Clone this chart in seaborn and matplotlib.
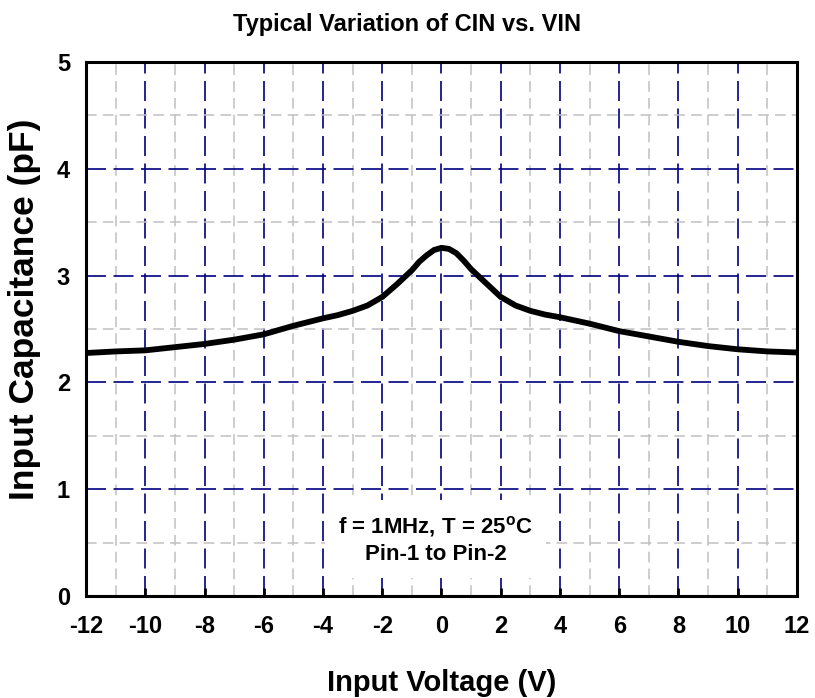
import matplotlib
matplotlib.use("Agg")
import matplotlib.pyplot as plt
import seaborn as sns
import pandas as pd
from matplotlib.ticker import MultipleLocator

# ---- data ----
vin = [-12, -11, -10, -9, -8, -7, -6, -5, -4, -3.5, -3, -2.5, -2, -1.5, -1, -0.75, -0.5, -0.25, 0,
       0.25, 0.5, 0.75, 1, 1.5, 2, 2.5, 3, 3.5, 4, 5, 6, 7, 8, 9, 10, 11, 12]
cin = [2.275, 2.29, 2.30, 2.33, 2.36, 2.40, 2.45, 2.53, 2.60, 2.63, 2.67, 2.72, 2.80, 2.92, 3.05, 3.13, 3.19, 3.24, 3.26,
       3.25, 3.21, 3.14, 3.06, 2.93, 2.80, 2.72, 2.67, 2.635, 2.61, 2.55, 2.48, 2.43, 2.38, 2.34, 2.31, 2.29, 2.28]
x_ticks = [-12, -10, -8, -6, -4, -2, 0, 2, 4, 6, 8, 10, 12]
y_ticks = [0, 1, 2, 3, 4, 5]
title = "Typical Variation of CIN vs. VIN"
xlabel = "Input Voltage (V)"
ylabel = "Input Capacitance (pF)"
note = "f = 1MHz, T = 25$^{\\mathbf{o}}$C\nPin-1 to Pin-2"

sns.set_style("white")
plt.rcParams['font.family'] = ['Liberation Sans', 'DejaVu Sans']
plt.rcParams['font.weight'] = 'bold'
plt.rcParams['text.color'] = 'black'
plt.rcParams['axes.labelcolor'] = 'black'
plt.rcParams['xtick.color'] = 'black'
plt.rcParams['ytick.color'] = 'black'
plt.rcParams['axes.unicode_minus'] = False
plt.rcParams['mathtext.fontset'] = 'custom'
plt.rcParams['mathtext.rm'] = 'Liberation Sans:bold'
plt.rcParams['mathtext.bf'] = 'Liberation Sans:bold'

df = pd.DataFrame({"vin": vin, "cin": cin})

fig = plt.figure(figsize=(8.15, 6.98), dpi=100)
ax = fig.add_axes([86 / 815, 1 - 596 / 698, (797 - 86) / 815, (596 - 62) / 698])

ax.set_xlim(-12, 12)
ax.set_ylim(0, 5)
ax.xaxis.set_minor_locator(MultipleLocator(1))
ax.yaxis.set_minor_locator(MultipleLocator(0.5))
ax.set_xticks(x_ticks)
ax.set_yticks(y_ticks)

ax.grid(which='minor', color='#c0c0c0', linestyle=(0, (7, 4)), linewidth=1.1, zorder=0)
ax.grid(which='major', color='#000080', linestyle=(0, (12, 4.5)), linewidth=1.2, zorder=1)
ax.set_axisbelow(True)

sns.lineplot(data=df, x="vin", y="cin", ax=ax, color='black', linewidth=4.2, zorder=5)

for s in ax.spines.values():
    s.set_linewidth(2.2)
    s.set_color('black')

ax.tick_params(axis='x', which='major', direction='in', length=6, width=2, color='black',
               labelcolor='black', labelsize=17, pad=14, bottom=True, top=False)
ax.tick_params(axis='x', which='minor', bottom=False, top=False)
ax.tick_params(axis='y', which='both', left=False, right=False, labelcolor='black',
               labelsize=17, pad=8)
for lab in ax.get_xticklabels() + ax.get_yticklabels():
    lab.set_fontweight('bold')

ax.set_xlabel(xlabel, fontsize=21, fontweight='bold', labelpad=22, color='black')
ax.set_ylabel("")
fig.text(25 / 815, 1 - 309 / 698, ylabel, rotation=90, fontsize=25.5, fontweight='bold',
         ha='center', va='center', color='black')
fig.text(0.5, 1 - 25 / 698, title, fontsize=17, fontweight='bold', ha='center', va='center',
         color='black')

ax.text(-0.2, 0.53, note, fontsize=16, fontweight='bold', ha='center', va='center',
        multialignment='center', linespacing=1.3, zorder=6, color='black',
        bbox=dict(boxstyle='square,pad=0.6', facecolor='white', edgecolor='none'))

fig.savefig("out.png", dpi=100)
